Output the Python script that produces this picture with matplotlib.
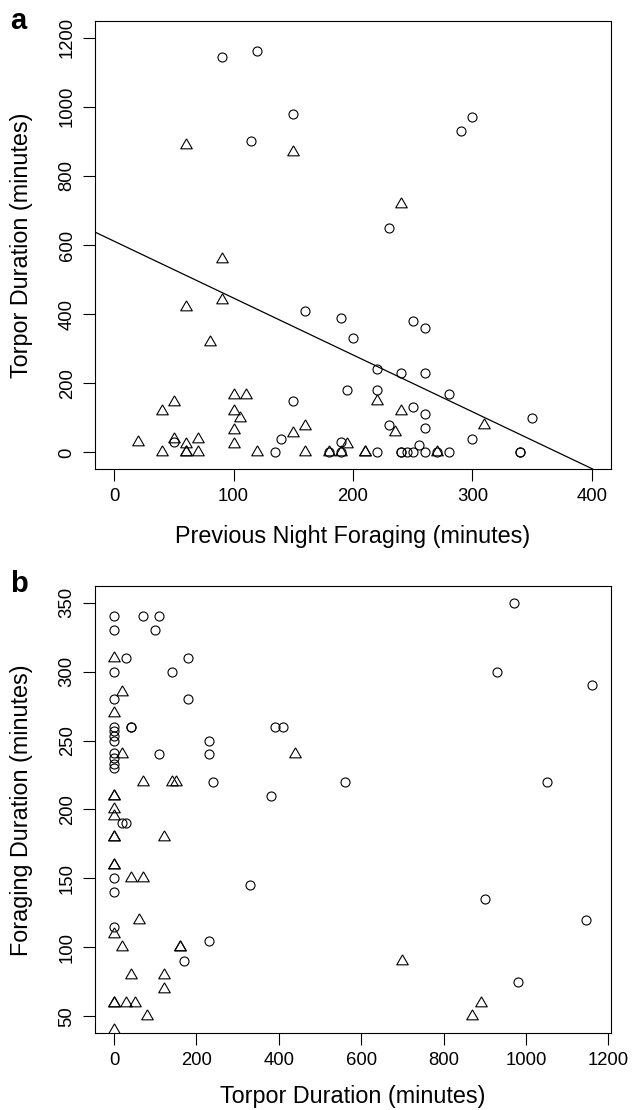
import numpy as np
import matplotlib.pyplot as plt

plt.rcParams['font.family'] = ['Liberation Sans', 'DejaVu Sans']

# panel a: previous night foraging (x) vs torpor duration (y)
a_circ_x = [90, 120, 150, 115, 300, 290, 230,
            160, 190, 200, 250, 260, 220, 240, 260, 280, 195, 220, 150, 250,
            260, 350, 230, 260, 140, 300, 190, 255, 50,
            135, 180, 190, 220, 240, 240, 245, 250, 260, 270, 280, 340, 340]
a_circ_y = [1145, 1160, 980, 900, 970, 930, 650,
            410, 390, 330, 380, 360, 240, 230, 230, 170, 180, 180, 150, 130,
            110, 100, 80, 70, 40, 40, 30, 20, 30,
            0, 0, 0, 0, 0, 0, 0, 0, 0, 0, 0, 0, 0]
a_tri_x = [60, 150, 240, 90, 60, 90, 80, 20, 40, 50, 50, 60, 70, 100, 110,
           100, 105, 100, 100, 150, 160, 220, 240, 235, 195, 310,
           40, 60, 60, 70, 120, 160, 180, 190, 210, 210, 270]
a_tri_y = [890, 870, 720, 560, 420, 440, 320, 30, 120, 145, 40, 25, 40, 165, 165,
           120, 100, 65, 25, 55, 75, 150, 120, 60, 25, 80,
           0, 0, 0, 0, 0, 0, 0, 0, 0, 0, 0]
# regression line coefficients
a_intercept = 611
a_slope = -1.645

# panel b: torpor duration (x) vs foraging duration (y)
b_circ_x = [0, 0, 0, 0, 0, 0, 0, 0, 0, 0, 0, 0, 0, 0, 0,
            70, 110, 100, 30, 180, 140, 180, 40, 40, 110, 230, 230, 240,
            380, 390, 410, 560, 930, 970, 1160, 1050, 20, 30, 330, 230, 170,
            900, 980, 1145]
b_circ_y = [340, 330, 300, 280, 260, 257, 253, 250, 241, 237, 233, 230, 150, 140, 115,
            340, 340, 330, 310, 310, 300, 280, 260, 260, 240, 250, 240, 220,
            210, 260, 260, 220, 300, 350, 290, 220, 190, 190, 145, 105, 90,
            135, 75, 120]
b_tri_x = [0, 20, 0, 20, 70, 140, 150, 440, 0, 0, 0, 0, 0, 0, 120, 0, 0,
           40, 70, 60, 0, 20, 160, 160, 40, 120, 120, 0, 0, 30, 50, 80, 0,
           700, 870, 890]
b_tri_y = [310, 285, 270, 240, 220, 220, 220, 240, 210, 210, 200, 195, 180, 180, 180, 160, 160,
           150, 150, 120, 110, 100, 100, 100, 80, 80, 70, 60, 60, 60, 60, 50, 40,
           90, 50, 60]

tri = [(0, 1), (-0.866, -0.5), (0.866, -0.5), (0, 1)]

fig = plt.figure(figsize=(6.32, 11.10), dpi=100)
W, H = 632, 1110
axa = fig.add_axes([95/W, 1-469/H, 516/W, 448/H])
axb = fig.add_axes([95/W, 1-1033/H, 516/W, 447/H])


def draw(ax, cx, cy, tx, ty):
    ax.plot(cx, cy, 'o', ms=6.5, mfc='none', mec='black', mew=0.8, ls='none')
    ax.plot(tx, ty, marker=tri, ms=9.6, mfc='none', mec='black', mew=0.8, ls='none')
    for s in ax.spines.values():
        s.set_linewidth(0.8)
    ax.tick_params(direction='out', length=8.4, width=0.8, labelsize=13.3, pad=5.5)
    plt.setp(ax.get_yticklabels(), rotation=90, va='center')


draw(axa, a_circ_x, a_circ_y, a_tri_x, a_tri_y)
axa.axline((0, a_intercept), slope=a_slope, color='black', lw=0.9)
axa.set_xlim(-16, 416)
axa.set_ylim(-48, 1248)
axa.set_xticks([0, 100, 200, 300, 400])
axa.set_yticks([0, 200, 400, 600, 800, 1000, 1200])
plt.setp(axa.get_yticklabels(), rotation=90, va='center')

draw(axb, b_circ_x, b_circ_y, b_tri_x, b_tri_y)
axb.set_xlim(-46.4, 1206.4)
axb.set_ylim(38, 362)
axb.set_xticks([0, 200, 400, 600, 800, 1000, 1200])
axb.set_yticks([50, 100, 150, 200, 250, 300, 350])
plt.setp(axb.get_yticklabels(), rotation=90, va='center')

lab = 16.8
fig.text(353/W, 1-536/H, 'Previous Night Foraging (minutes)', ha='center', va='center', fontsize=lab)
fig.text(22/W, 1-245/H, 'Torpor Duration (minutes)', ha='center', va='center', rotation=90, fontsize=lab)
fig.text(353/W, 1-1097/H, 'Torpor Duration (minutes)', ha='center', va='center', fontsize=lab)
fig.text(22/W, 1-810/H, 'Foraging Duration (minutes)', ha='center', va='center', rotation=90, fontsize=lab)

fig.text(10/W, 1-29/H, 'a', ha='left', va='baseline', fontsize=21, fontweight='bold')
fig.text(10/W, 1-592/H, 'b', ha='left', va='baseline', fontsize=21, fontweight='bold')

fig.savefig('out.png', dpi=100)
